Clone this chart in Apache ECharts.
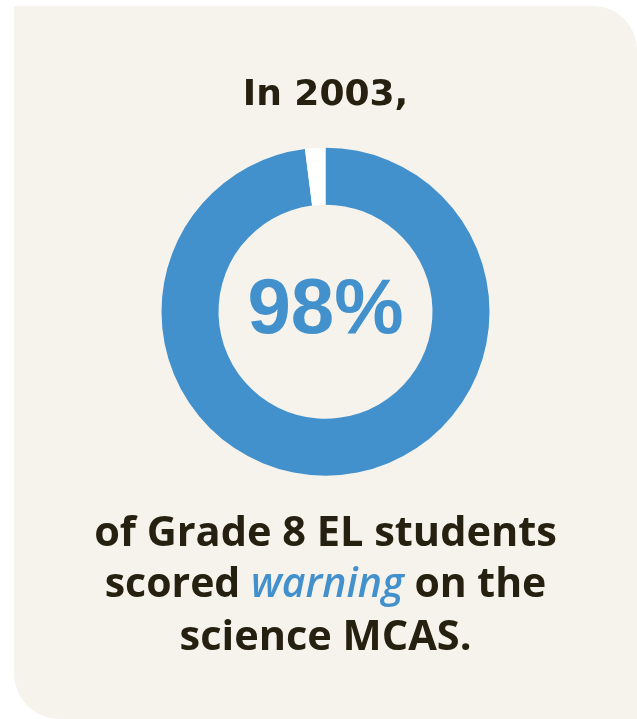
<!DOCTYPE html>
<html>
<head>
<meta charset="utf-8">
<script src="https://cdn.jsdelivr.net/npm/echarts@6/dist/echarts.min.js"></script>
<style>
  html, body { margin: 0; padding: 0; background: #ffffff; }
  #chart { width: 637px; height: 719px; }
</style>
</head>
<body>
<div id="chart"></div>
<script>
// ---- data ----
const categories = ['Scored warning', 'Other'];
const values = [98, 2];
const headline = 'In 2003,';
const captionLine1 = 'of Grade 8 EL students';
const captionLine2 = ['scored ', 'warning', ' on the'];
const captionLine3 = 'science MCAS.';

const BLUE = '#4291cd';
const DARK = '#262010';
const CARD = '#f6f3ec';

const chart = echarts.init(document.getElementById('chart'), null, { renderer: 'canvas' });

const option = {
  backgroundColor: '#ffffff',
  animation: false,
  graphic: [
    {
      type: 'rect', z: 0, silent: true,
      shape: { x: 14, y: 6, width: 623, height: 713, r: [0, 44, 0, 46] },
      style: { fill: CARD }
    },
    {
      type: 'text', z: 10, silent: true,
      x: 325.5, y: 114,
      style: {
        text: headline, fill: DARK,
        font: 'bold 36px "DejaVu Sans"',
        align: 'center', verticalAlign: 'bottom'
      }
    },
    {
      type: 'text', z: 10, silent: true,
      x: 325.5, y: 555,
      style: {
        text: captionLine1, fill: DARK,
        font: 'bold 41.5px "Open Sans"',
        align: 'center', verticalAlign: 'bottom'
      }
    },
    {
      type: 'text', z: 10, silent: true,
      x: 325.5, y: 606,
      style: {
        text: '{a|' + captionLine2[0] + '}{b|' + captionLine2[1] + '}{a|' + captionLine2[2] + '}',
        align: 'center', verticalAlign: 'bottom',
        rich: {
          a: { fill: DARK, fontFamily: 'Open Sans', fontWeight: 'bold', fontSize: 41 },
          b: { fill: BLUE, fontFamily: 'Open Sans', fontWeight: 600, fontStyle: 'italic', fontSize: 41 }
        }
      }
    },
    {
      type: 'text', z: 10, silent: true,
      x: 325.5, y: 659,
      style: {
        text: captionLine3, fill: DARK,
        font: 'bold 41.5px "Open Sans"',
        align: 'center', verticalAlign: 'bottom'
      }
    }
  ],
  series: [
    {
      type: 'pie',
      silent: true,
      center: [325.5, 311.7],
      radius: [107, 164],
      startAngle: 90,
      clockwise: true,
      avoidLabelOverlap: false,
      labelLine: { show: false },
      data: categories.map((name, i) => ({
        name: name,
        value: values[i],
        itemStyle: { color: i === 0 ? BLUE : '#ffffff', borderWidth: 0 },
        label: i === 0 ? {
          show: true, position: 'center',
          formatter: '{c}%',
          color: BLUE,
          fontFamily: 'Liberation Sans',
          fontWeight: 'bold',
          fontSize: 78,
          padding: [10, 0, 0, 0]
        } : { show: false }
      }))
    }
  ]
};

chart.setOption(option);
</script>
</body>
</html>
